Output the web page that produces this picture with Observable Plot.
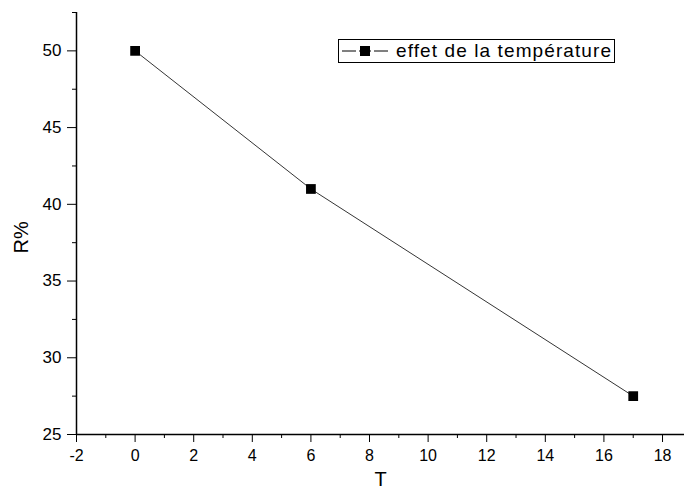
<!DOCTYPE html>
<html>
<head>
<meta charset="utf-8">
<script src="https://cdn.jsdelivr.net/npm/d3@7"></script>
<script src="https://cdn.jsdelivr.net/npm/@observablehq/plot@0.6"></script>
<style>
  body { margin: 0; background: #fff; }
  #wrap { position: relative; width: 684px; height: 498px; font-family: "Liberation Sans", Arial, sans-serif; }
  #legend { position: absolute; left: 338px; top: 39px; width: 277px; height: 24px; border: 1px solid #000; box-sizing: border-box; background: #fff; display: flex; align-items: center; font-size: 19px; letter-spacing: 1.1px; color: #000; white-space: nowrap; }
  #legend svg { margin-left: 3px; margin-right: 8px; flex: none; }
</style>
</head>
<body>
<div id="wrap"></div>
<script>
const T = [0, 6, 17];
const R = [50, 41, 27.5];
const seriesName = "effet de la température";
const xMajor = [-2, 0, 2, 4, 6, 8, 10, 12, 14, 16, 18];
const xMinor = [-1, 1, 3, 5, 7, 9, 11, 13, 15, 17];
const yMajor = [25, 30, 35, 40, 45, 50];
const yMinor = [27.5, 32.5, 37.5, 42.5, 47.5, 52.5];

const data = T.map((t, i) => ({T: t, R: R[i]}));
const fmt = d => String(d);

const chart = Plot.plot({
  width: 684,
  height: 498,
  marginLeft: 76,
  marginRight: 0,
  marginTop: 12,
  marginBottom: 64,
  style: {fontFamily: '"Liberation Sans", Arial, sans-serif', fontSize: "16px", color: "#000", background: "#fff"},
  x: {domain: [-2, 18.75]},
  y: {domain: [25, 52.5]},
  marks: [
    Plot.axisX({ticks: xMajor, tickSize: 8, tickPadding: 7, fontSize: 16, tickFormat: fmt, label: null}),
    Plot.axisX({ticks: xMinor, tickSize: 4, text: null, label: null}),
    Plot.axisY({ticks: yMajor, tickSize: 9, tickPadding: 6, fontSize: 17, tickFormat: fmt, label: null}),
    Plot.axisY({ticks: yMinor, tickSize: 4, text: null, label: null}),
    Plot.ruleY([25], {stroke: "#000", strokeWidth: 1.5}),
    Plot.ruleX([-2], {stroke: "#000", strokeWidth: 1.5}),
    Plot.line(data, {x: "T", y: "R", stroke: "#000", strokeWidth: 0.8}),
    Plot.dot(data, {x: "T", y: "R", symbol: "square", r: 5.5, fill: "#000", stroke: "none"}),
    Plot.text(["T"], {frameAnchor: "bottom", dy: 51, fontSize: 20}),
    Plot.text(["R%"], {frameAnchor: "left", dx: -55, dy: 30, rotate: -90, fontSize: 20})
  ]
});

const wrap = document.getElementById("wrap");
wrap.appendChild(chart);

const legend = document.createElement("div");
legend.id = "legend";
legend.innerHTML = `<svg width="46" height="12"><line x1="0" y1="6" x2="46" y2="6" stroke="#000" stroke-width="1"/><rect x="18" y="1" width="10" height="10" fill="#000"/><line x1="14" y1="6" x2="17" y2="6" stroke="#fff" stroke-width="2"/><line x1="29" y1="6" x2="32" y2="6" stroke="#fff" stroke-width="2"/></svg><span>${seriesName}</span>`;
wrap.appendChild(legend);
</script>
</body>
</html>
